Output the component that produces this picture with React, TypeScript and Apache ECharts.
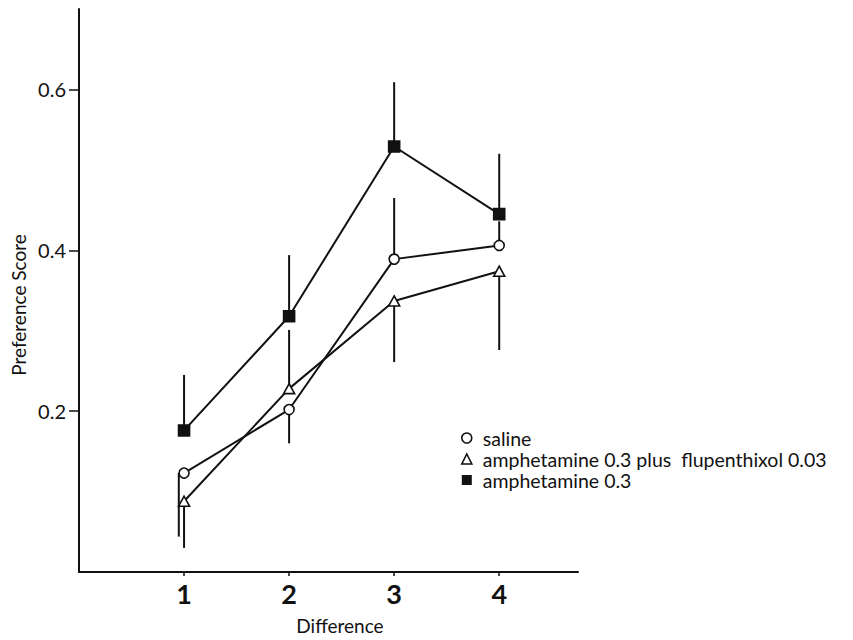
import React, { useEffect, useRef } from "react";
import * as echarts from "echarts";

const xValues = [1, 2, 3, 4];
const xTickLabels = ["1", "2", "3", "4"];
const yTickValues = [0.2, 0.4, 0.6];

const seriesNames = [
  "saline",
  "amphetamine 0.3 plus  flupenthixol 0.03",
  "amphetamine 0.3",
];

const salineValues = [0.123, 0.202, 0.389, 0.406];
const salineErrEnd = [0.044, 0.16, 0.465, 0.436];
const salineErrX = [0.95, 2, 3, 4];

const amphFluValues = [0.088, 0.228, 0.337, 0.374];
const amphFluErrEnd = [0.03, 0.301, 0.261, 0.276];
const amphFluErrX = [1, 2, 3, 4];

const amphValues = [0.176, 0.318, 0.529, 0.445];
const amphErrEnd = [0.245, 0.394, 0.609, 0.52];
const amphErrX = [1, 2, 3, 4];

const FONT = "Lato, 'DejaVu Sans', sans-serif";
const INK = "#111";

export default function App() {
  const ref = useRef<HTMLDivElement>(null);

  useEffect(() => {
    if (!ref.current) return;
    const chart = echarts.init(ref.current, undefined, { renderer: "svg" });

    const errData = (xs: number[], ys: number[], ends: number[]) =>
      xs.map((x, i) => [x, ys[i], ends[i]]);

    const errSeries = (name: string, data: number[][]) => ({
      type: "custom",
      name: name + " error",
      data,
      z: 1,
      silent: true,
      renderItem: (params: any, api: any) => {
        const p0 = api.coord([api.value(0), api.value(1)]);
        const p1 = api.coord([api.value(0), api.value(2)]);
        return {
          type: "line",
          shape: { x1: p0[0], y1: p0[1], x2: p1[0], y2: p1[1] },
          style: { stroke: INK, lineWidth: 2 },
        };
      },
    });

    const lineSeries = (
      name: string,
      values: number[],
      symbol: string,
      size: any,
      fill: string
    ) => ({
      type: "line",
      name,
      data: xValues.map((x, i) => [x, values[i]]),
      symbol,
      symbolSize: size,
      showAllSymbol: true,
      z: 3,
      lineStyle: { color: INK, width: 2 },
      itemStyle: { color: fill, borderColor: INK, borderWidth: 1.6, opacity: 1 },
    });

    chart.setOption({
      animation: false,
      backgroundColor: "#fff",
      grid: { left: 79, right: 275, top: 9, bottom: 68, containLabel: false },
      xAxis: {
        type: "value",
        min: 0,
        max: 4.75,
        axisLine: { show: true, lineStyle: { color: INK, width: 2 } },
        axisTick: {
          show: true,
          customValues: xValues,
          length: 4,
          lineStyle: { color: INK, width: 1.5 },
        },
        axisLabel: {
          customValues: xValues,
          formatter: (v: number) => xTickLabels[xValues.indexOf(v)] ?? "",
          color: INK,
          fontFamily: FONT,
          fontSize: 27,
          fontWeight: "bold",
          margin: 8,
        },
        splitLine: { show: false },
      },
      yAxis: {
        type: "value",
        min: 0,
        max: 0.7,
        axisLine: { show: true, lineStyle: { color: INK, width: 2 } },
        axisTick: {
          show: true,
          customValues: yTickValues,
          length: 10,
          lineStyle: { color: INK, width: 1.5 },
        },
        axisLabel: {
          customValues: yTickValues,
          formatter: (v: number) => v.toFixed(1),
          color: INK,
          fontFamily: FONT,
          fontSize: 20,
          margin: 13,
        },
        splitLine: { show: false },
      },
      legend: {
        orient: "vertical",
        left: 456,
        top: 423,
        itemWidth: 10,
        itemHeight: 10,
        itemGap: 1,
        textStyle: {
          color: INK,
          fontFamily: FONT,
          fontSize: 19.5,
          lineHeight: 19,
          padding: [0, 0, 0, 6],
        },
        data: [
          {
            name: seriesNames[0],
            icon: "circle",
            itemStyle: { color: "#fff", borderColor: INK, borderWidth: 1.6 },
          },
          {
            name: seriesNames[1],
            icon: "triangle",
            itemStyle: { color: "#fff", borderColor: INK, borderWidth: 1.6 },
          },
          {
            name: seriesNames[2],
            icon: "rect",
            itemStyle: { color: INK, borderColor: INK, borderWidth: 0 },
          },
        ],
      },
      graphic: [
        {
          type: "text",
          x: 18,
          y: 305,
          rotation: Math.PI / 2,
          style: {
            text: "Preference Score",
            fontFamily: FONT,
            fontSize: 19,
            fill: INK,
            align: "center",
            verticalAlign: "middle",
          },
        },
        {
          type: "text",
          x: 340,
          y: 625,
          style: {
            text: "Difference",
            fontFamily: FONT,
            fontSize: 19,
            fill: INK,
            align: "center",
            verticalAlign: "middle",
          },
        },
      ],
      series: [
        errSeries(seriesNames[0], errData(salineErrX, salineValues, salineErrEnd)),
        errSeries(seriesNames[1], errData(amphFluErrX, amphFluValues, amphFluErrEnd)),
        errSeries(seriesNames[2], errData(amphErrX, amphValues, amphErrEnd)),
        lineSeries(seriesNames[0], salineValues, "circle", 10, "#fff"),
        lineSeries(seriesNames[1], amphFluValues, "triangle", [11, 10], "#fff"),
        lineSeries(seriesNames[2], amphValues, "rect", 11, INK),
      ],
    });

    return () => chart.dispose();
  }, []);

  return (
    <div
      ref={ref}
      style={{ position: "absolute", left: 0, top: 0, width: 853, height: 640 }}
    />
  );
}
